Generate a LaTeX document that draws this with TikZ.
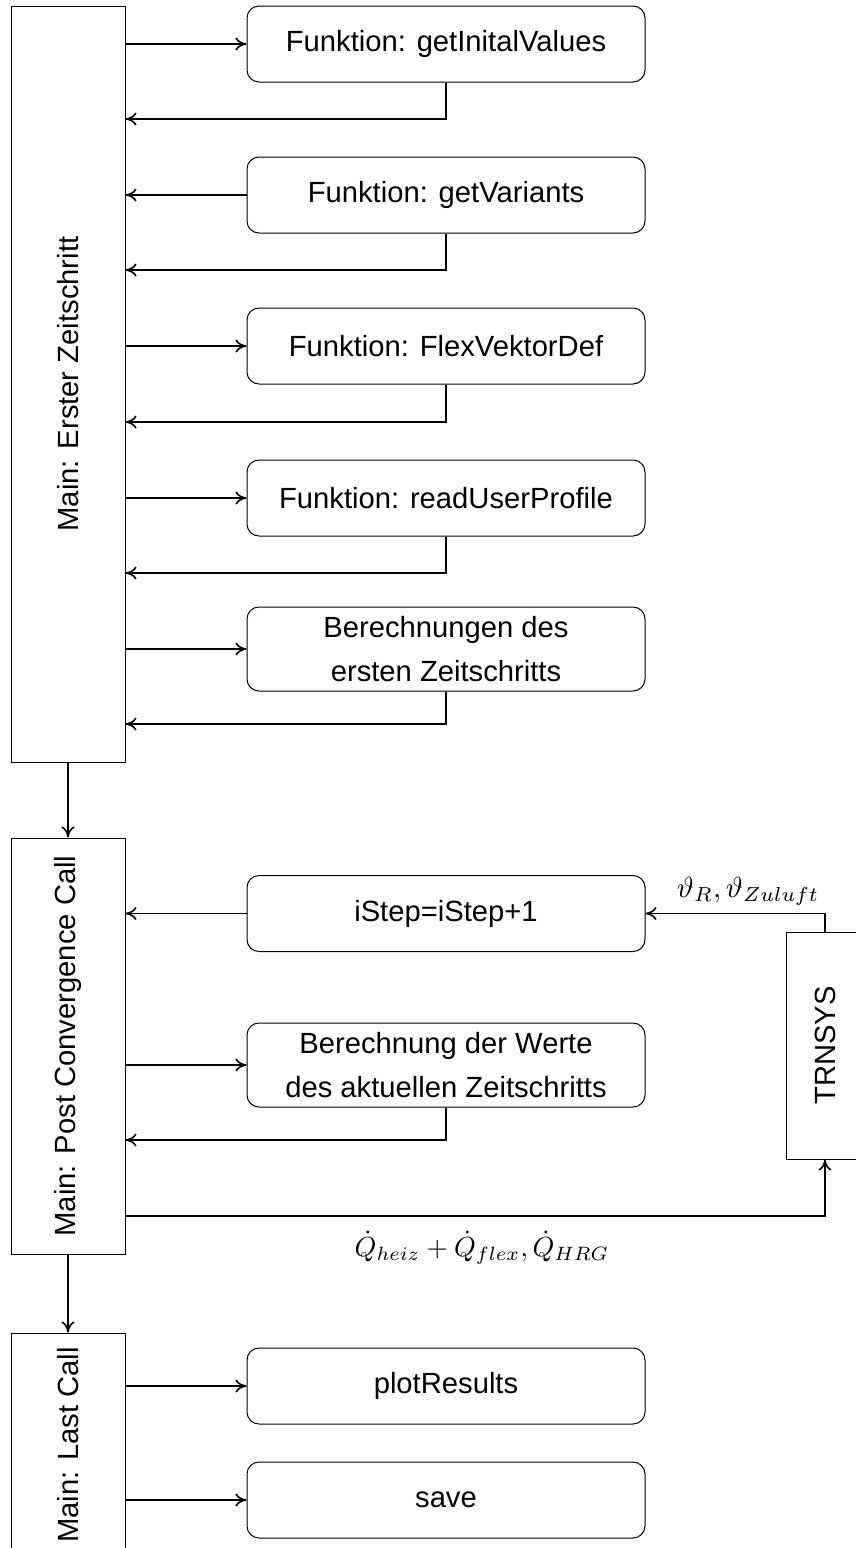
\documentclass[tikz,border=0pt]{standalone}
\usepackage{graphicx}
\usepackage{fontspec}
\setmainfont{Liberation Sans}
\usetikzlibrary{arrows.meta}
\begin{document}
\begin{tikzpicture}[x=0.5pt,y=-0.5pt,
  every node/.style={font=\fontsize{14.6}{22}\selectfont},
  fbox/.style={draw, rounded corners=6pt, minimum width=199pt, minimum height=38pt, align=center, inner sep=0pt, line width=0.5pt},
  fboxtwo/.style={fbox, minimum height=42pt},
  mbox/.style={draw, minimum width=57pt, inner sep=0pt, line width=0.5pt},
  arr/.style={-{To[length=5.5pt,width=6.5pt]}, line width=0.8pt},
  lbl/.style={rotate=90, inner sep=0pt},
  mathlbl/.style={font=\normalsize, anchor=base, inner sep=0pt}]
\useasboundingbox (0,0) rectangle (856,1548);
\begin{scope}
\clip (0,0) rectangle (856,1548);
% main boxes
\node[mbox, minimum height=378pt] (m1) at (68,384) {};
\node[mbox, minimum height=208pt] (m2) at (68,1046) {};
\node[mbox, minimum height=112pt] (m3) at (68,1445) {};
\node[lbl] (t1) at (m1.center) {Main: Erster Zeitschritt};
\node[lbl] (t2) at (m2.center) {Main: Post Convergence Call};
\node[lbl] (t3) at (m3.center) {Main: Last Call};
% TRNSYS
\node[draw, line width=0.5pt, minimum width=39pt, minimum height=113.5pt, inner sep=0pt] (tr) at (825,1045.5) {};
\node[lbl] (ttr) at (tr.center) {TRNSYS};
% function boxes
\node[fbox] (b1) at (446,44) {Funktion: getInitalValues};
\node[fbox] (b2) at (446,195) {Funktion: getVariants};
\node[fbox] (b3) at (446,346) {Funktion: FlexVektorDef};
\node[fbox] (b4) at (446,498) {Funktion: readUserProfile};
\node[fboxtwo] (b5) at (446,649) {Berechnungen des\\ersten Zeitschritts};
\node[fbox] (b6) at (446,913.5) {iStep=iStep+1};
\node[fboxtwo] (b7) at (446,1065) {Berechnung der Werte\\des aktuellen Zeitschritts};
\node[fbox] (b8) at (446,1386) {plotResults};
\node[fbox] (b9) at (446,1500) {save};
% return coordinates
\coordinate (r1) at (446,119);
\coordinate (r2) at (446,270);
\coordinate (r3) at (446,422);
\coordinate (r4) at (446,573);
\coordinate (r5) at (446,724);
\coordinate (r7) at (446,1140);
\coordinate (qo) at (0,1216);
% connectors
\draw[arr] (m1.east |- b1.west) -- (b1.west);
\draw[arr] (b1.south) |- (m1.east |- r1);
\draw[arr] (b2.west) -- (m1.east |- b2.west);
\draw[arr] (b2.south) |- (m1.east |- r2);
\draw[arr] (m1.east |- b3.west) -- (b3.west);
\draw[arr] (b3.south) |- (m1.east |- r3);
\draw[arr] (m1.east |- b4.west) -- (b4.west);
\draw[arr] (b4.south) |- (m1.east |- r4);
\draw[arr] (m1.east |- b5.west) -- (b5.west);
\draw[arr] (b5.south) |- (m1.east |- r5);
\draw[arr] (m1.south) -- (m2.north);
\draw[arr] (b6.west) -- (m2.east |- b6.west);
\draw[arr] (tr.north) |- (b6.east);
\draw[arr] (m2.east |- b7.west) -- (b7.west);
\draw[arr] (b7.south) |- (m2.east |- r7);
\draw[arr] (m2.east |- qo) -| (tr.south);
\draw[arr] (m2.south) -- (m3.north);
\draw[arr] (m3.east |- b8.west) -- (b8.west);
\draw[arr] (m3.east |- b9.west) -- (b9.west);
% labels
\node[mathlbl] (lth) at (748,897) {\scalebox{1.45}{$\vartheta_R,\vartheta_{Zuluft}$}};
\node[mathlbl] (lq) at (482,1256) {\scalebox{1.38}{$\dot{Q}_{heiz}+\dot{Q}_{flex},\dot{Q}_{HRG}$}};
\end{scope}
\end{tikzpicture}
\end{document}
